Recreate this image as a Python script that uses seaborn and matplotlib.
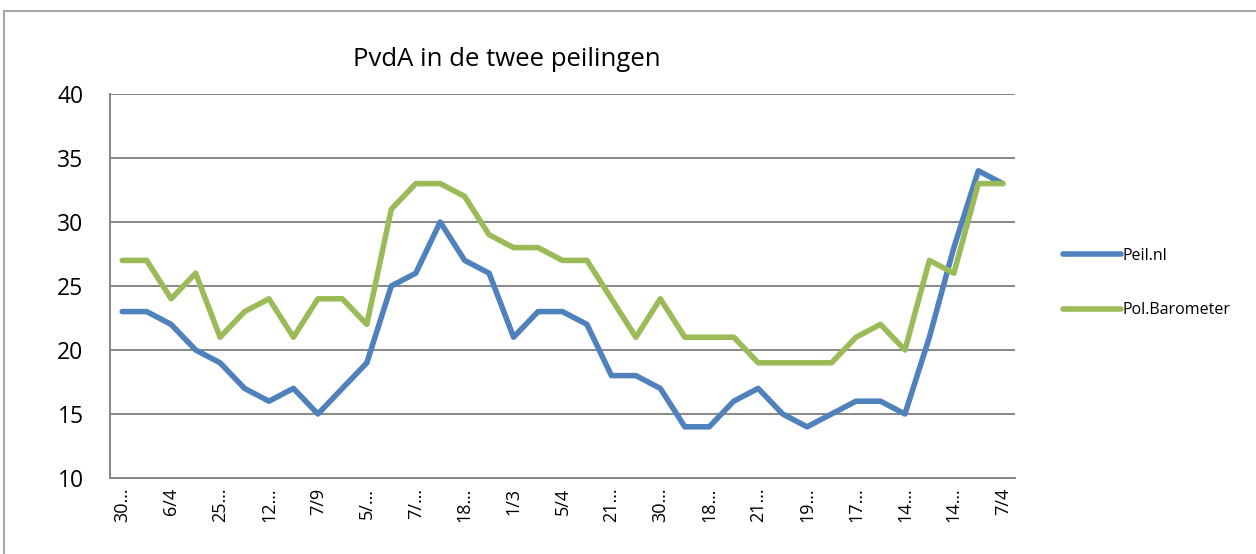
import matplotlib
matplotlib.use("Agg")
import pandas as pd
from matplotlib import pyplot as plt
from matplotlib.patches import Rectangle
import seaborn as sns

# PvdA zetels in de twee peilingen
peil_nl = [23, 23, 22, 20, 19, 17, 16, 17, 15, 17, 19, 25, 26, 30, 27, 26, 21, 23, 23, 22,
           18, 18, 17, 14, 14, 16, 17, 15, 14, 15, 16, 16, 15, 21, 28, 34, 33]
pol_barometer = [27, 27, 24, 26, 21, 23, 24, 21, 24, 24, 22, 31, 33, 33, 32, 29, 28, 28, 27, 27,
                 24, 21, 24, 21, 21, 21, 19, 19, 19, 19, 21, 22, 20, 27, 26, 33, 33]
# only every other category gets a label in the original
tick_labels = ["30…", "6/4", "25…", "12…", "7/9", "5/…", "7/…", "18…", "1/3", "5/4",
               "21…", "30…", "18…", "21…", "19…", "17…", "14…", "14…", "7/4"]
series_names = ["Peil.nl", "Pol.Barometer"]
colors = ["#4F81BD", "#9BBB59"]
y_ticks = [10, 15, 20, 25, 30, 35, 40]


def main():
    n = len(peil_nl)
    df = pd.DataFrame({
        "idx": list(range(n)) * 2,
        "zetels": peil_nl + pol_barometer,
        "peiling": [series_names[0]] * n + [series_names[1]] * n,
    })

    sns.set_style("white", {"text.color": "black", "xtick.color": "black", "ytick.color": "black"})
    plt.rcParams["font.family"] = ["Open Sans", "DejaVu Sans"]

    fig = plt.figure(figsize=(12.56, 5.54), dpi=100)
    ax = fig.add_axes([110 / 1256, 1 - 478 / 554, 905 / 1256, 384 / 554])

    sns.lineplot(data=df, x="idx", y="zetels", hue="peiling", palette=colors,
                 linewidth=4.0, ax=ax, legend=False)

    gridc = "#878787"
    ax.set_xlim(-0.5, n - 0.5)
    ax.set_ylim(10, 40)
    ax.set_yticks(y_ticks)
    ax.yaxis.grid(True, color=gridc, linewidth=1.4)
    ax.set_axisbelow(True)
    for s in ["top", "right"]:
        ax.spines[s].set_visible(False)
    for s in ["left", "bottom"]:
        ax.spines[s].set_color(gridc)
        ax.spines[s].set_linewidth(1.4)

    ax.set_xticks(list(range(0, n, 2)))
    ax.set_xticklabels(tick_labels, rotation=90, va="top", ha="center")
    ax.set_xticks([i - 0.5 for i in range(n + 1)], minor=True)
    ax.tick_params(axis="x", which="major", length=0, pad=7, labelsize=13, labelcolor="black")
    ax.tick_params(axis="x", which="minor", length=4, width=1.2, color=gridc, direction="out")
    ax.tick_params(axis="y", length=6, width=1.2, color=gridc, direction="out", pad=13,
                   labelsize=16.5, labelcolor="black")
    ax.set_xlabel("")
    ax.set_ylabel("")

    fig.text(507 / 1256, 1 - 60 / 554, "PvdA in de twee peilingen", ha="center", va="center",
             fontsize=18.5, color="black")

    handles = [plt.Line2D([], [], color=c, linewidth=4.0, solid_capstyle="round") for c in colors]
    leg = fig.legend(handles, series_names, loc="center left",
                     bbox_to_anchor=(1049 / 1256, 1 - 283 / 554), frameon=False,
                     fontsize=11.5, handlelength=3.6, handletextpad=0.1, labelspacing=2.4)
    for t in leg.get_texts():
        t.set_color("black")

    fig.patches.append(Rectangle((4 / 1256, -0.1), 1.2, 1.1 - 11 / 554, transform=fig.transFigure,
                                 fill=False, edgecolor="#a6a6a6", linewidth=1.5))

    fig.savefig("out.png", dpi=100)


if __name__ == "__main__":
    main()
